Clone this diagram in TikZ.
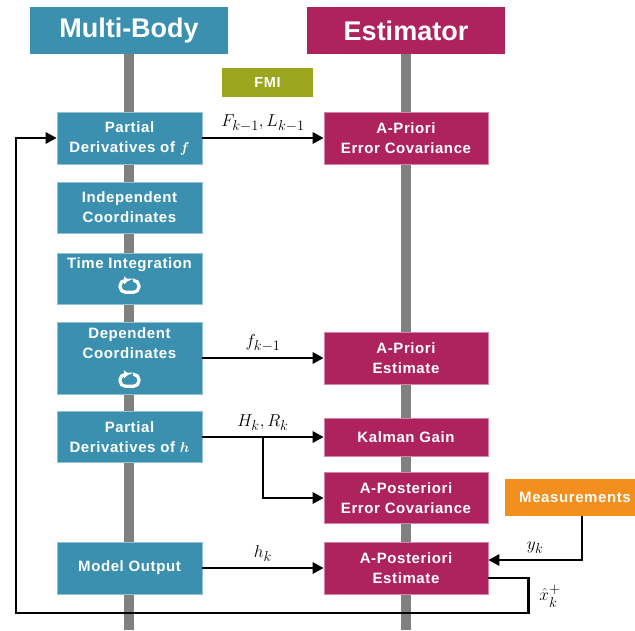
\documentclass[tikz,border=0pt]{standalone}
\usepackage[no-math]{fontspec}
\setmainfont{Liberation Sans}
\newfontfamily\boxfont[LetterSpace=4]{Liberation Sans}
\usepackage{amsmath,amssymb}
\usetikzlibrary{arrows.meta,positioning,calc}
\definecolor{mbblue}{RGB}{59,144,176}
\definecolor{estred}{RGB}{174,34,94}
\definecolor{fmigreen}{RGB}{155,166,30}
\definecolor{measorange}{RGB}{243,143,28}
\definecolor{railgray}{RGB}{128,128,128}

\begin{document}
\begin{tikzpicture}[
  x=1pt,y=-1pt,
  box/.style={inner sep=0pt,align=center,text=white,line width=0.6pt,font=\boxfont\fontsize{15}{20}\selectfont\bfseries},
  mb/.style={box,fill=mbblue,draw=mbblue!55!white,minimum width=145pt},
  est/.style={box,fill=estred,draw=estred!55!white,minimum width=164pt},
  head/.style={inner sep=0pt,text=white,font=\fontsize{27}{30}\selectfont\bfseries,minimum width=198pt,minimum height=47pt},
  lbl/.style={font=\fontsize{19}{21}\selectfont,inner sep=2pt},
  arr/.style={-{Triangle[length=11pt,width=11pt]},line width=2.8pt},
  rail/.style={railgray,line width=10.5pt},
  pics/loopicon/.style={code={
    \draw[white,line width=3.2pt,rounded corners=5.5pt,-{Triangle[length=4.5pt,width=8pt]}]
      (3.5,-6) -- (9.5,-6) -- (9.5,6) -- (-9.5,6) -- (-9.5,-6) -- (-1,-6);
  }}
]
\path[use as bounding box,fill=white] (0,0) rectangle (635,630);
% column heads
\node[head,fill=mbblue] (mbhead) at (129,30.5) {Multi-Body};
\node[head,fill=estred] (esthead) at (406,30.5) {Estimator};
\draw[rail] (mbhead.south) -- (mbhead.south |- 0,630);
\draw[rail] (esthead.south) -- (esthead.south |- 0,630);
\node[box,fill=fmigreen,minimum width=91pt,minimum height=29pt,font=\boxfont\fontsize{14.5}{16}\selectfont\bfseries] (fmi) at (267.5,82.5) {FMI};
% multi-body side
\node[mb,minimum height=52pt] (pdf) at (129.5,138) {Partial\\Derivatives of $\boldsymbol{f}$};
\node[mb,minimum height=51pt] (indep) at (129.5,207.5) {Independent\\Coordinates};
\node[mb,minimum height=51pt] (tint) at (129.5,278.5) {Time Integration\\[10pt]\mbox{}};
\node[mb,minimum height=72pt] (dep) at (129.5,358) {Dependent\\Coordinates\\[10pt]\mbox{}};
\node[mb,minimum height=51pt] (pdh) at (129.5,437) {Partial\\Derivatives of $\boldsymbol{h}$};
\node[mb,minimum height=52pt] (mout) at (129.5,568) {Model Output};
\pic at ([yshift=18pt]tint.south) {loopicon};
\pic at ([yshift=14pt]dep.south) {loopicon};
% estimator side
\node[est,minimum height=52pt] (apcov) at (406,138) {A-Priori\\Error Covariance};
\node[est,minimum height=52pt] (apest) at (406,358) {A-Priori\\Estimate};
\node[est,minimum height=38pt] (kgain) at (406,437) {Kalman Gain};
\node[est,minimum height=51pt] (pocov) at (406,498) {A-Posteriori\\Error Covariance};
\node[est,minimum height=52pt] (poest) at (406,568) {A-Posteriori\\Estimate};
\node[box,fill=measorange,minimum width=140pt,minimum height=37pt] (meas) at (575,497.5) {Measurements};
% signals
\draw[arr] (pdf) -- (apcov) node[lbl,midway,above=3pt] {$F_{k-1},L_{k-1}$};
\draw[arr] (dep) -- (apest) node[lbl,midway,above=3pt] {$f_{k-1}$};
\coordinate (hsplit) at ($(pdh.east)!0.5!(kgain.west)$);
\draw[arr] (pdh) -- (kgain) node[lbl,midway,above=3pt] {$H_k,R_k$};
\draw[arr] (hsplit) |- (pocov.west);
\draw[arr] (mout) -- (poest) node[lbl,midway,above=3pt] {$h_k$};
\draw[arr] ([xshift=7pt]meas.south) |- ([yshift=8pt]poest.east) node[lbl,pos=0.75,above=3pt] {$y_k$};
\coordinate (fbcorner) at (16,613);
\draw[arr] ([yshift=-10pt]poest.east) -- ++(40,0) |- (fbcorner) |- (pdf.west);
\node[lbl] (xhat) at (550,596) {$\hat{x}_k^+$};
\end{tikzpicture}
\end{document}
